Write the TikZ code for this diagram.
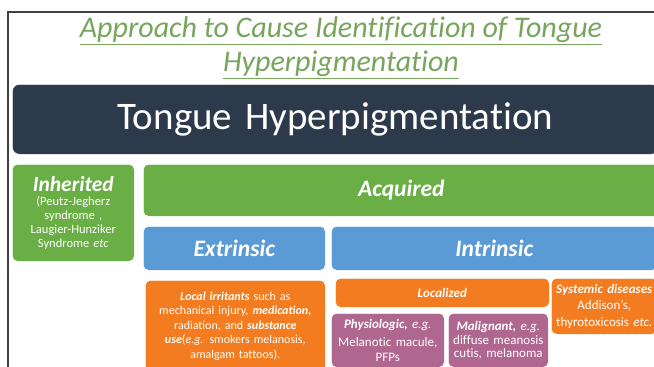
\documentclass[tikz,border=0pt]{standalone}
\usepackage{fontspec}
\setmainfont{Carlito}[Ligatures=NoCommon]
\definecolor{titlegreen}{HTML}{76A55B}
\definecolor{slate}{HTML}{2C3A4B}
\definecolor{leaf}{HTML}{6AAE46}
\definecolor{sky}{HTML}{5B9BD5}
\definecolor{amber}{HTML}{F47C20}
\definecolor{plum}{HTML}{B0678F}
\tikzset{
  box/.style={rectangle, rounded corners=5pt, draw=white, line width=0.6pt, anchor=north west, inner sep=0pt, text=white, align=center},
  sized/.style 2 args={text width=#1pt, minimum height=#2pt},
  big/.style={font=\fontsize{23.5}{26}\selectfont\bfseries\itshape},
}
\begin{document}
\begin{tikzpicture}[x=1pt, y=-1pt]
\useasboundingbox (0,0) rectangle (654,367);
\clip (0,0) rectangle (654,367);
\draw[line width=1.5pt, draw=black!75] (8,370) -- (8,12) -- (660,12);
\node[align=center, text=titlegreen, font=\fontsize{30}{34}\selectfont\itshape] (T) at (341,48) {\underline{Approach to Cause Identification of Tongue}\\\underline{Hyperpigmentation}};
\node[box, rounded corners=7pt, fill=slate, sized={646}{70}, font=\fontsize{39}{42}\selectfont] (TH) at (12,84) {Tongue Hyperpigmentation};
\node[box, fill=leaf, sized={122}{97}, font=\fontsize{12.5}{14}\selectfont] (Inh) at (12,164) {{\fontsize{21.5}{24}\selectfont\bfseries\itshape Inherited}\\(Peutz-Jegherz\\syndrome ,\\Laugier-Hunziker\\Syndrome \textit{etc}};
\node[box, fill=leaf, sized={516}{52}, big] (Acq) at (143,164) {Acquired};
\node[box, fill=sky, sized={182}{44}, big] (Ext) at (143,226) {Extrinsic};
\node[box, fill=sky, sized={326}{44}, big] (Int) at (331,226) {Intrinsic};
\node[box, fill=amber, sized={180}{92}, font=\fontsize{12}{14.5}\selectfont] (Loc) at (145,280) {\textbf{\textit{Local irritants}} such as\\mechanical injury, \textbf{\textit{medication,}}\\radiation, and \textbf{\textit{substance}}\\\textbf{\textit{use}}(\textit{e.g.} smokers melanosis,\\amalgam tattoos).};
\node[box, fill=amber, sized={214}{29}, font=\fontsize{13}{15}\selectfont\bfseries\itshape] (Lzd) at (335,278) {Localized};
\node[box, fill=amber, sized={106}{56}, font=\fontsize{13}{16.5}\selectfont] (Sys) at (551,278) {\textbf{\textit{Systemic diseases}}\\Addison's,\\thyrotoxicosis \textit{etc.}};
\node[box, fill=plum, sized={113}{54}, font=\fontsize{13}{15}\selectfont] (Phy) at (331,313) {\textbf{\textit{Physiologic,}} \textit{e.g.}\\[3pt]Melanotic macule,\\PFPs};
\node[box, fill=plum, sized={100}{54}, font=\fontsize{13}{13.5}\selectfont] (Mal) at (448,313) {\textbf{\textit{Malignant,}} \textit{e.g.}\\diffuse meanosis\\cutis, melanoma};
\end{tikzpicture}
\end{document}
